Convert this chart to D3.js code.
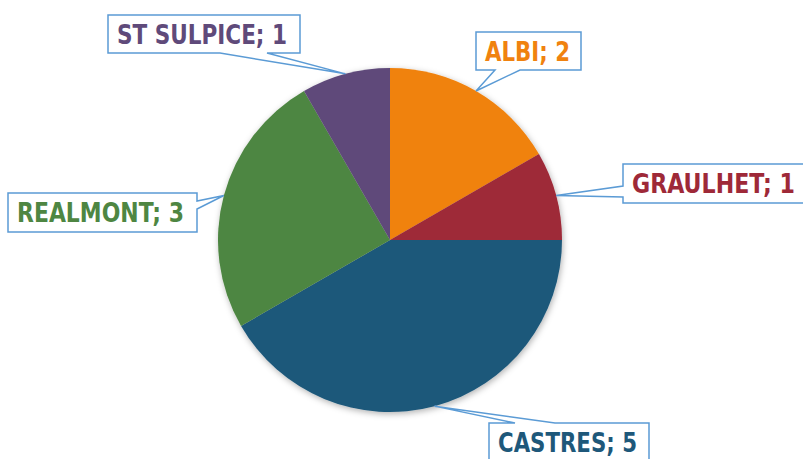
<!DOCTYPE html>
<html>
<head>
<meta charset="utf-8">
<script src="https://cdn.jsdelivr.net/npm/d3@7"></script>
<style>
  body { margin: 0; background: #fff; }
  svg { display: block; }
</style>
</head>
<body>
<svg id="chart" width="803" height="459"></svg>
<script>
// data, read clockwise from 12 o'clock
const cities = ["ALBI", "GRAULHET", "CASTRES", "REALMONT", "ST SULPICE"];
const counts = [2, 1, 5, 3, 1];
const colors = ["#F0820F", "#9E2938", "#1E587A", "#4E8642", "#5F4A7A"];

// callout boxes: position, size, text width and which side the pointer leaves from
const boxes = [
    {x: 476, y: 32, w: 105, h: 38, tw: 85, side: "bottom", b0: 495, b1: 520},
    {x: 623, y: 164, w: 190, h: 39, tw: 163, side: "left", b0: 186, b1: 197},
    {x: 489, y: 423, w: 160, h: 40, tw: 139, side: "top", b0: 515, b1: 555},
    {x: 8, y: 193, w: 189, h: 39, tw: 167, side: "right", b0: 201, b1: 209},
    {x: 108, y: 15, w: 192, h: 38, tw: 170, side: "bottom", b0: 220, b1: 267}
];

const svg = d3.select("svg#chart");
const cx = 390, cy = 240, radius = 172;

const defs = svg.append("defs");
defs.append("filter")
    .attr("id", "shadow")
    .attr("x", "-20%").attr("y", "-20%").attr("width", "140%").attr("height", "140%")
    .append("feDropShadow")
        .attr("dx", 1).attr("dy", 2)
        .attr("stdDeviation", 3)
        .attr("flood-color", "#000")
        .attr("flood-opacity", 0.3);

const data = cities.map((c, i) => ({city: c, value: counts[i], color: colors[i], box: boxes[i]}));

const pie = d3.pie().sort(null).value(d => d.value);
const arc = d3.arc().innerRadius(0).outerRadius(radius);
const arcs = pie(data);

const g = svg.append("g").attr("transform", `translate(${cx},${cy})`);

g.append("g")
    .attr("filter", "url(#shadow)")
    .selectAll("path")
    .data(arcs)
    .join("path")
        .attr("d", arc)
        .attr("fill", d => d.data.color);

// callouts
function calloutPath(b, tip) {
    const x0 = b.x, y0 = b.y, x1 = b.x + b.w, y1 = b.y + b.h;
    const [tx, ty] = tip;
    if (b.side == "bottom")
        return `M${x0},${y0}H${x1}V${y1}H${b.b1}L${tx},${ty}L${b.b0},${y1}H${x0}Z`;
    if (b.side == "top")
        return `M${x0},${y0}H${b.b0}L${tx},${ty}L${b.b1},${y0}H${x1}V${y1}H${x0}Z`;
    if (b.side == "left")
        return `M${x0},${y0}H${x1}V${y1}H${x0}V${b.b1}L${tx},${ty}L${x0},${b.b0}Z`;
    return `M${x0},${y0}H${x1}V${b.b0}L${tx},${ty}L${x1},${b.b1}V${y1}H${x0}Z`;
}

const labels = svg.append("g")
    .selectAll("g")
    .data(arcs)
    .join("g");

labels.append("path")
    .attr("d", d => {
        const mid = (d.startAngle + d.endAngle) / 2;
        const tip = [cx + radius * Math.sin(mid), cy - radius * Math.cos(mid)];
        return calloutPath(d.data.box, tip);
    })
    .attr("fill", "#fff")
    .attr("stroke", "#5B9BD5")
    .attr("stroke-width", 1.5);

labels.append("text")
    .attr("x", d => d.data.box.x + 9)
    .attr("y", d => d.data.box.y + 29)
    .attr("textLength", d => d.data.box.tw)
    .attr("lengthAdjust", "spacingAndGlyphs")
    .attr("fill", d => d.data.color)
    .style("font-family", "'DejaVu Sans Condensed', 'DejaVu Sans', sans-serif")
    .style("font-stretch", "condensed")
    .style("font-weight", "bold")
    .style("font-size", "26px")
    .text(d => d.data.city + "; " + d.data.value);
</script>
</body>
</html>
